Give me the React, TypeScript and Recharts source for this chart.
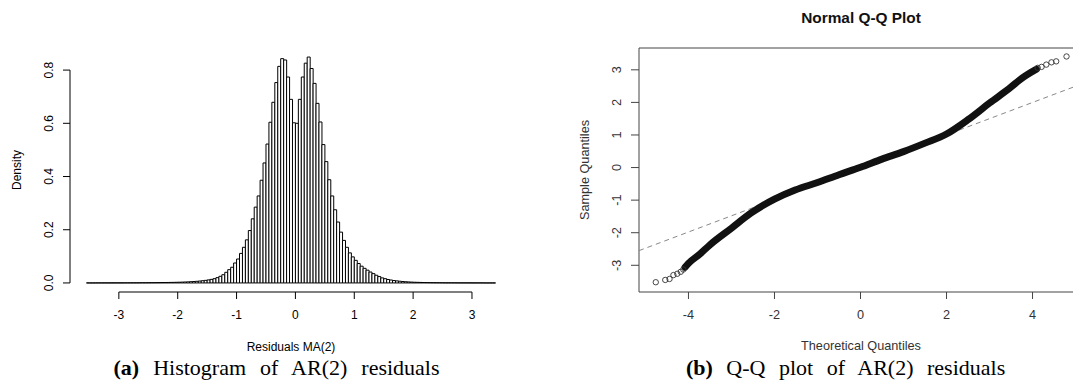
import {
  BarChart,
  Bar,
  XAxis,
  YAxis,
  ReferenceLine,
  ReferenceArea,
  ComposedChart,
  Line,
  Scatter,
} from 'recharts'

// histogram breaks: 0.05 wide, first bin starts at -3.55
const BIN_START = -3.55
const BIN_WIDTH = 0.05

// density per bin (left to right, -3.55 ... 3.35)
const density = [
  0.0002, 0.0001, 0.0001, 0.0002, 0.0002, 0.0002, 0.0003, 0.0002, 0.0003, 0.0003, // -3.55
  0.0004, 0.0004, 0.0004, 0.0005, 0.0005, 0.0006, 0.0006, 0.0007, 0.0008, 0.0008, // -3.05
  0.0009, 0.001, 0.0011, 0.0012, 0.0013, 0.0015, 0.0016, 0.0018, 0.002, 0.0022, // -2.55
  0.0025, 0.0028, 0.0032, 0.0036, 0.0041, 0.0047, 0.0054, 0.0062, 0.0072, 0.0084, // -2.05
  0.0098, 0.0115, 0.0135, 0.016, 0.02, 0.025, 0.031, 0.04, 0.05, 0.059, // -1.55
  0.075, 0.09, 0.111, 0.134, 0.162, 0.197, 0.241, 0.285, 0.327, 0.386, // -1.05
  0.451, 0.522, 0.604, 0.679, 0.753, 0.814, 0.843, 0.838, 0.774, 0.69, // -0.55
  0.602, 0.6, 0.69, 0.774, 0.826, 0.849, 0.806, 0.75, 0.675, 0.605, // -0.05
  0.52, 0.456, 0.388, 0.327, 0.275, 0.229, 0.191, 0.16, 0.134, 0.113, // 0.45
  0.098, 0.085, 0.073, 0.063, 0.055, 0.048, 0.041, 0.035, 0.029, 0.024, // 0.95
  0.019, 0.016, 0.013, 0.011, 0.009, 0.0078, 0.0065, 0.0054, 0.0045, 0.0038, // 1.45
  0.0032, 0.0027, 0.0023, 0.002, 0.0017, 0.0015, 0.0013, 0.0011, 0.001, 0.0009, // 1.95
  0.0008, 0.0007, 0.0006, 0.0006, 0.0005, 0.0005, 0.0004, 0.0004, 0.0003, 0.0003, // 2.45
  0.0003, 0.0002, 0.0002, 0.0002, 0.0002, 0.0001, 0.0001, 0.0001, 0.0001, // 2.95
]

const histXTicks = [-3, -2, -1, 0, 1, 2, 3]
const histYTicks = [0, 0.2, 0.4, 0.6, 0.8]

// Q-Q plot: dense body of points, then the sparse circles in each tail
const qqBand = [
  { x: -4.08, y: -3.06 },
  { x: -4.0, y: -2.94 },
  { x: -3.73, y: -2.65 },
  { x: -3.5, y: -2.37 },
  { x: -3.0, y: -1.86 },
  { x: -2.55, y: -1.4 },
  { x: -2.0, y: -0.97 },
  { x: -1.52, y: -0.69 },
  { x: -1.0, y: -0.46 },
  { x: -0.5, y: -0.22 },
  { x: 0, y: 0.01 },
  { x: 0.5, y: 0.26 },
  { x: 1.0, y: 0.49 },
  { x: 1.5, y: 0.75 },
  { x: 2.0, y: 1.03 },
  { x: 2.5, y: 1.47 },
  { x: 3.0, y: 1.98 },
  { x: 3.5, y: 2.47 },
  { x: 3.7, y: 2.69 },
  { x: 4.0, y: 2.95 },
  { x: 4.09, y: 3.02 },
]
const qqTails = [
  { x: -4.76, y: -3.52 },
  { x: -4.54, y: -3.45 },
  { x: -4.44, y: -3.42 },
  { x: -4.35, y: -3.3 },
  { x: -4.26, y: -3.26 },
  { x: -4.18, y: -3.2 },
  { x: -4.12, y: -3.13 },
  { x: 4.12, y: 3.06 },
  { x: 4.21, y: 3.09 },
  { x: 4.32, y: 3.16 },
  { x: 4.44, y: 3.23 },
  { x: 4.55, y: 3.26 },
  { x: 4.79, y: 3.41 },
]
const qqLineEnds = [
  { x: -5.15, y: -2.55 },
  { x: 5.15, y: 2.57 },
]
const qqXTicks = [-4, -2, 0, 2, 4]
const qqYTicks = [-3, -2, -1, 0, 1, 2, 3]

const SANS = '"Liberation Sans", Arial, Helvetica, sans-serif'
const SERIF = '"Liberation Serif", "Times New Roman", serif'

const histData = density.map((d, i) => ({
  bin: String(i),
  mid: BIN_START + BIN_WIDTH * (i + 0.5),
  density: d,
}))

// plot region of the histogram (R's usr coordinates)
const H_XMIN = -3.83
const H_XMAX = 3.68
const H_YMIN = -0.034
const H_YMAX = 0.883
const H_PLOT_W = 442
const binsEnd = BIN_START + BIN_WIDTH * density.length
const padL = ((BIN_START - H_XMIN) / (H_XMAX - H_XMIN)) * H_PLOT_W
const padR = ((H_XMAX - binsEnd) / (H_XMAX - H_XMIN)) * H_PLOT_W

function RotatedTick(props: any) {
  const { x, y, payload, size, color, digits } = props
  const label = digits ? Number(payload.value).toFixed(digits) : String(payload.value)
  return (
    <text
      x={x}
      y={y}
      transform={`rotate(-90, ${x}, ${y})`}
      textAnchor="middle"
      fontSize={size}
      fontFamily={SANS}
      fill={color}
    >
      {label}
    </text>
  )
}

function Circle(props: any) {
  return <circle cx={props.cx} cy={props.cy} r={2.7} fill="none" stroke="#333" strokeWidth={0.9} />
}

export default function App() {
  return (
    <div
      style={{
        position: 'absolute',
        left: 0,
        top: 0,
        width: 1073,
        height: 385,
        overflow: 'hidden',
        background: '#fff',
      }}
    >
      <div style={{ position: 'absolute', left: 0, top: 0 }}>
        <BarChart
          width={540}
          height={385}
          data={histData}
          margin={{ top: 48, right: 28, bottom: 0, left: 0 }}
          barCategoryGap={0}
          barGap={0}
        >
          <XAxis
            xAxisId="cat"
            dataKey="bin"
            type="category"
            hide
            height={0}
            padding={{ left: padL, right: padR }}
          />
          <XAxis
            xAxisId="num"
            dataKey="mid"
            type="number"
            domain={[H_XMIN, H_XMAX]}
            allowDataOverflow
            ticks={histXTicks}
            interval={0}
            height={93}
            axisLine={false}
            tickLine={{ stroke: '#000' }}
            tickSize={7}
            tickMargin={11}
            tick={{ fontSize: 12, fontFamily: SANS, fill: '#000' }}
          />
          <YAxis
            type="number"
            domain={[H_YMIN, H_YMAX]}
            allowDataOverflow
            ticks={histYTicks}
            interval={0}
            width={70}
            axisLine={false}
            tickLine={{ stroke: '#000' }}
            tickSize={7}
            tickMargin={10}
            tick={(p: any) => <RotatedTick {...p} size={12} color="#000" digits={1} />}
          />
          <ReferenceLine
            xAxisId="num"
            ifOverflow="visible"
            stroke="#000"
            segment={[
              { x: H_XMIN, y: 0 },
              { x: H_XMIN, y: 0.8 },
            ]}
          />
          <ReferenceLine
            xAxisId="num"
            ifOverflow="visible"
            stroke="#000"
            segment={[
              { x: -3, y: H_YMIN },
              { x: 3, y: H_YMIN },
            ]}
          />
          <Bar xAxisId="cat" dataKey="density" fill="#fff" stroke="#000" strokeWidth={1} isAnimationActive={false} />
        </BarChart>
      </div>

      <div style={{ position: 'absolute', left: 540, top: 0 }}>
        <ComposedChart width={560} height={385} margin={{ top: 48, right: 18, bottom: 0, left: 0 }}>
          <XAxis
            dataKey="x"
            type="number"
            domain={[-5.15, 5.15]}
            allowDataOverflow
            ticks={qqXTicks}
            interval={0}
            height={93}
            axisLine={false}
            tickLine={{ stroke: '#444' }}
            tickSize={7}
            tickMargin={11}
            tick={{ fontSize: 12.7, fontFamily: SANS, fill: '#333' }}
          />
          <YAxis
            dataKey="y"
            type="number"
            domain={[-3.82, 3.67]}
            allowDataOverflow
            ticks={qqYTicks}
            interval={0}
            width={99}
            axisLine={false}
            tickLine={{ stroke: '#444' }}
            tickSize={8}
            tickMargin={9.5}
            tick={(p: any) => <RotatedTick {...p} size={12.7} color="#333" />}
          />
          <ReferenceArea x1={-5.15} x2={5.15} y1={-3.82} y2={3.67} fill="none" stroke="#444" strokeWidth={1} />
          <Line
            data={qqLineEnds}
            dataKey="y"
            type="linear"
            stroke="#888"
            strokeWidth={1}
            strokeDasharray="5 4"
            dot={false}
            isAnimationActive={false}
          />
          <Line
            data={qqBand}
            dataKey="y"
            type="monotone"
            stroke="#111"
            strokeWidth={7}
            strokeLinecap="round"
            strokeLinejoin="round"
            dot={false}
            isAnimationActive={false}
          />
          <Scatter data={qqTails} shape={<Circle />} isAnimationActive={false} />
        </ComposedChart>
      </div>

      <svg
        width={1073}
        height={385}
        style={{ position: 'absolute', left: 0, top: 0, pointerEvents: 'none' }}
      >
        <text x={20.5} y={170} transform="rotate(-90, 20.5, 170)" textAnchor="middle" fontSize={12} fontFamily={SANS}>
          Density
        </text>
        <text x={291} y={350.5} textAnchor="middle" fontSize={12} fontFamily={SANS}>
          Residuals MA(2)
        </text>
        <text x={861} y={23} textAnchor="middle" fontSize={15.4} fontWeight="bold" fontFamily={SANS} fill="#111">
          Normal Q-Q Plot
        </text>
        <text x={861} y={350} textAnchor="middle" fontSize={12.7} fontFamily={SANS} fill="#333">
          Theoretical Quantiles
        </text>
        <text
          x={589}
          y={170}
          transform="rotate(-90, 589, 170)"
          textAnchor="middle"
          fontSize={12.7}
          fontFamily={SANS}
          fill="#333"
        >
          Sample Quantiles
        </text>
        <text x={276.5} y={375} textAnchor="middle" fontSize={22} fontFamily={SERIF} style={{ wordSpacing: 8.5 }}>
          <tspan fontWeight="bold">(a)</tspan> Histogram of AR(2) residuals
        </text>
        <text x={845.6} y={375} textAnchor="middle" fontSize={22} fontFamily={SERIF} style={{ wordSpacing: 8 }}>
          <tspan fontWeight="bold">(b)</tspan> Q-Q plot of AR(2) residuals
        </text>
      </svg>
    </div>
  )
}
